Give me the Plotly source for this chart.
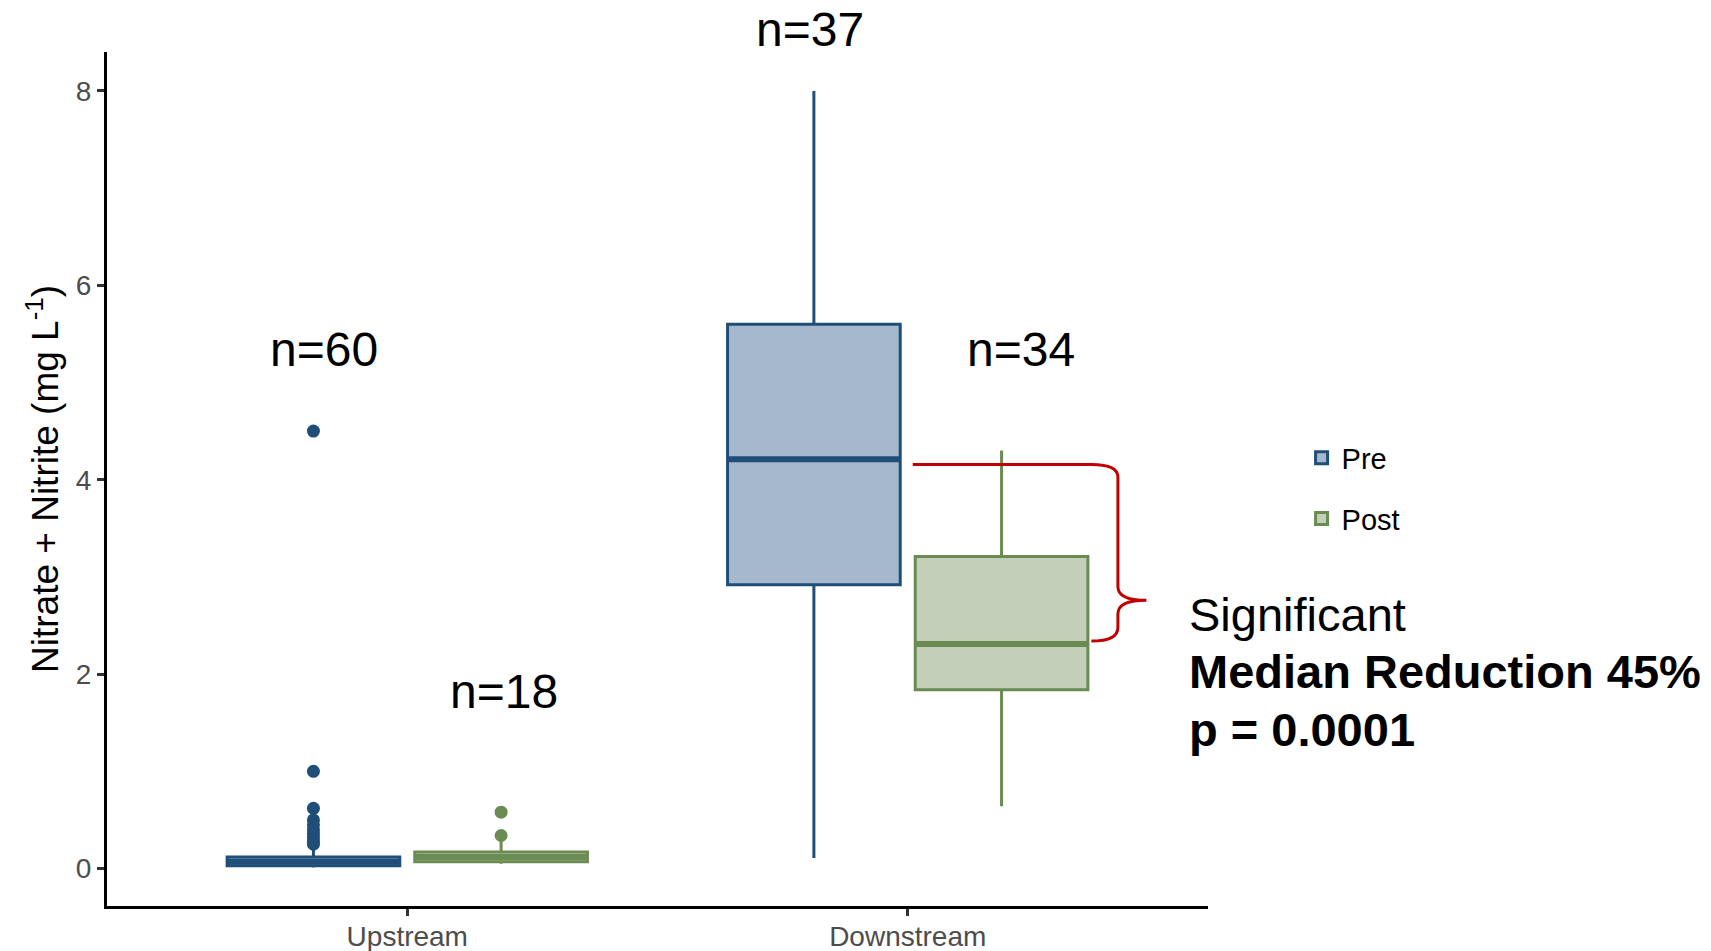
import numpy as np
import plotly.graph_objects as go

# ---------------- data ----------------
sites = ["Upstream", "Downstream"]
groups = ["Pre", "Post"]

pre_q1 = [0.03, 2.92]
pre_median = [0.07, 4.21]
pre_q3 = [0.12, 5.60]
pre_lower = [0.01, 0.11]
pre_upper = [0.21, 8.00]

post_q1 = [0.07, 1.84]
post_median = [0.12, 2.31]
post_q3 = [0.17, 3.21]
post_lower = [0.05, 0.64]
post_upper = [0.29, 4.30]

pre_outliers_upstream = [4.50, 1.00, 0.62, 0.50, 0.45, 0.40, 0.36, 0.32, 0.28, 0.25]
post_outliers_upstream = [0.58, 0.34]

n_labels = ["n=60", "n=18", "n=37", "n=34"]
n_label_y = [5.34, 1.82, 8.63, 5.34]

# ---------------- style ----------------
PRE_LINE = "#1F4E79"
PRE_FILL = "#A6B8CE"
POST_LINE = "#6A8B52"
POST_FILL = "#C3CFB8"
FONT = "Liberation Sans, Arial, sans-serif"

Y_RANGE = [-0.385, 8.40]
dodge = 0.1875
box_w = 0.345
idx = np.arange(len(sites), dtype=float)
x_pre = idx - dodge
x_post = idx + dodge

fig = go.Figure()

fig.add_trace(go.Box(
    name="Pre", x=x_pre, q1=pre_q1, median=pre_median, q3=pre_q3,
    lowerfence=pre_lower, upperfence=pre_upper, width=box_w,
    boxpoints=False, whiskerwidth=0,
    line=dict(color=PRE_LINE, width=3), fillcolor=PRE_FILL,
    legendgroup="pre", hoverinfo="skip"))
fig.add_trace(go.Box(
    name="Post", x=x_post, q1=post_q1, median=post_median, q3=post_q3,
    lowerfence=post_lower, upperfence=post_upper, width=box_w,
    boxpoints=False, whiskerwidth=0,
    line=dict(color=POST_LINE, width=3), fillcolor=POST_FILL,
    legendgroup="post", hoverinfo="skip"))


def median_segments(xc, med):
    xs, ys = [], []
    for x, m in zip(xc, med):
        xs += [x - box_w / 2, x + box_w / 2, None]
        ys += [m, m, None]
    return xs, ys


for xc, med, col in [(x_pre, pre_median, PRE_LINE), (x_post, post_median, POST_LINE)]:
    xs, ys = median_segments(xc, med)
    fig.add_trace(go.Scatter(x=xs, y=ys, mode="lines", line=dict(color=col, width=6),
                             showlegend=False, hoverinfo="skip"))

fig.add_trace(go.Scatter(x=[x_pre[0]] * len(pre_outliers_upstream), y=pre_outliers_upstream,
                         mode="markers", marker=dict(color=PRE_LINE, size=13),
                         showlegend=False, hoverinfo="skip"))
fig.add_trace(go.Scatter(x=[x_post[0]] * len(post_outliers_upstream), y=post_outliers_upstream,
                         mode="markers", marker=dict(color=POST_LINE, size=13),
                         showlegend=False, hoverinfo="skip"))

# n labels (y converted to paper so labels above the axis range still show)
n_label_x = [-0.166, 0.194, 0.804, 1.226]
for t, x, y in zip(n_labels, n_label_x, n_label_y):
    yp = (y - Y_RANGE[0]) / (Y_RANGE[1] - Y_RANGE[0])
    fig.add_annotation(x=x, y=yp, xref="x", yref="paper", text=t, showarrow=False,
                       xanchor="center", yanchor="middle",
                       font=dict(size=48, color="black", family=FONT))

# bracket (curly brace) between medians
bx0, bx1, bx2, bx3 = 0.01, 0.367, 0.42, 0.477
yt, yb = 4.157, 2.34
ytip = 2.76
path = (f"M {1+bx0},{yt} L {1+bx1},{yt} "
        f"Q {1+bx2},{yt} {1+bx2},{yt-0.13} "
        f"L {1+bx2},{ytip+0.14} "
        f"Q {1+bx2},{ytip} {1+bx3},{ytip} "
        f"Q {1+bx2},{ytip} {1+bx2},{ytip-0.14} "
        f"L {1+bx2},{yb+0.14} "
        f"Q {1+bx2},{yb} {1+bx1},{yb}")
fig.add_shape(type="path", path=path, xref="x", yref="y",
              line=dict(color="#C00000", width=3))

for txt, ypix in [("Significant", 614), ("<b>Median Reduction 45%</b>", 671), ("<b>p = 0.0001</b>", 729)]:
    fig.add_annotation(x=0.981, y=1 - (ypix - 52) / 854, xref="paper", yref="paper",
                       text=txt, showarrow=False, xanchor="left", yanchor="middle",
                       font=dict(size=47, color="black", family=FONT))

fig.update_layout(
    width=1711, height=951,
    margin=dict(l=107, r=503, t=52, b=45, autoexpand=False),
    plot_bgcolor="white", paper_bgcolor="white",
    font=dict(family=FONT),
    showlegend=True,
    legend=dict(x=1.085, y=0.489, xanchor="left", yanchor="middle",
                font=dict(size=29, color="black", family=FONT),
                tracegroupgap=20, traceorder="grouped", bgcolor="rgba(0,0,0,0)"),
    xaxis=dict(range=[-0.6, 1.6], tickvals=idx, ticktext=sites, automargin=False,
               showgrid=False, zeroline=False, showline=True, linecolor="black", linewidth=3,
               ticks="outside", ticklen=7, tickwidth=2.5, tickcolor="#333333",
               ticklabelstandoff=-4,
               tickfont=dict(size=28, color="#4D4D4D", family=FONT)),
    yaxis=dict(range=Y_RANGE, tickvals=[0, 2, 4, 6, 8], automargin=False,
               showgrid=False, zeroline=False, showline=True, linecolor="black", linewidth=3,
               ticks="outside", ticklen=7, tickwidth=2.5, tickcolor="#333333",
               tickfont=dict(size=28, color="#4D4D4D", family=FONT),
               title=dict(text="Nitrate + Nitrite (mg L<sup>-1</sup>)",
                          font=dict(size=37, color="black", family=FONT), standoff=6)),
)

fig.write_html("out.html", post_script="document.body.style.margin='0';",
               config={"displayModeBar": False})
